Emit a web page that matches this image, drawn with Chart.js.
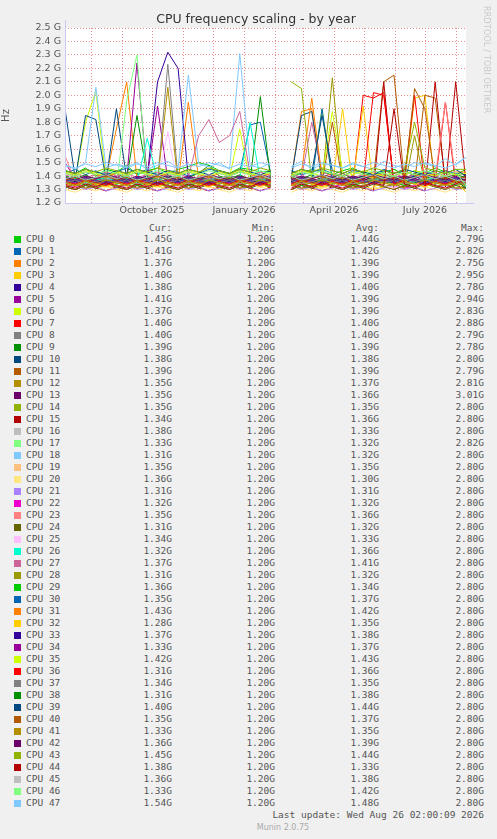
<!DOCTYPE html>
<html>
<head>
<meta charset="utf-8">
<script src="https://cdn.jsdelivr.net/npm/chart.js@4"></script>
<style>
  body { margin: 0; background: #f0f0f0; width: 497px; height: 839px; position: relative; overflow: hidden; font-family: "DejaVu Sans", sans-serif; }
  #title { position: absolute; top: 11px; left: 0; width: 512px; text-align: center; font-size: 12.5px; color: #333; }
  #wrap { position: absolute; left: 0; top: 0; width: 497px; height: 220px; }
  #side { position: absolute; left: 482px; top: 6px; writing-mode: vertical-rl; font-size: 8px; color: #c8c8c8; letter-spacing: 0.2px; }
  .t { position: absolute; font-family: "DejaVu Sans Mono", monospace; font-size: 9.5px; color: #555; white-space: pre; }
  .sw { position: absolute; width: 7px; height: 7px; }
  #munin { position: absolute; top: 823px; left: 0; width: 566px; text-align: center; font-size: 8px; color: #aaa; }
</style>
</head>
<body>
<div id="wrap"><canvas id="chart"></canvas></div>
<div id="title">CPU frequency scaling - by year</div>
<div id="side">RRDTOOL / TOBI OETIKER</div>
<div id="legend"></div>
<div id="munin">Munin 2.0.75</div>
<script>
// values are hundredths of a GHz above 1.20 G, "-" = no data
const cpuNames = [];
for (let i = 0; i < 48; i++) cpuNames.push("CPU " + i);

const colors = ["#00CC00","#0066B3","#FF8000","#FFCC00","#330099","#990099","#CCFF00","#FF0000","#808080","#008F00",
  "#00487D","#B35A00","#B38F00","#6B006B","#8FB300","#B30000","#BEBEBE","#80FF80","#80C9FF","#FFC080",
  "#FFE680","#AA80FF","#EE00CC","#FF8080","#666600","#FFBFFF","#00FFCC","#CC6699","#999900"];

const series = [
"24 22 26 20 25 23 28 21 24 26 22 25 27 30 28 24 22 26 25 23 24 - 20 22 25 23 21 24 26 22 20 23 25 21 24 22 26 23 21 25",
"22 25 21 24 20 23 26 22 25 21 24 23 20 22 25 24 21 23 58 60 22 - 24 21 23 25 22 20 24 23 21 25 22 24 20 23 21 24 22 21",
"18 16 20 17 19 55 90 18 15 17 19 16 75 18 17 19 16 20 18 17 15 - 18 68 70 17 19 16 18 15 17 19 16 18 17 15 19 16 18 17",
"12 10 14 11 13 10 12 14 11 13 10 12 11 14 12 10 13 11 12 14 11 - 13 10 12 11 14 70 12 13 10 12 11 14 78 80 12 11 13 20",
"19 17 20 18 16 19 17 18 20 90 112 100 18 16 19 17 20 18 16 19 17 - 18 20 16 19 17 18 20 16 19 17 18 16 20 19 17 18 16 18",
"30 18 16 19 17 20 18 104 19 72 17 18 20 16 19 17 18 20 16 19 17 - 18 19 17 16 20 18 19 17 18 16 19 20 17 18 16 19 17 21",
"16 18 60 83 17 15 18 16 17 19 15 18 16 17 15 18 19 55 16 18 17 - 15 17 19 70 16 18 15 17 19 16 18 17 15 19 16 18 17 17",
"14 12 16 13 15 12 14 16 13 15 12 14 13 15 12 16 14 13 12 15 14 - 13 15 12 14 16 13 15 80 78 82 14 12 16 13 15 75 14 20",
"18 20 17 19 16 18 20 17 19 16 103 18 20 17 19 16 18 20 17 19 16 - 18 17 19 20 16 18 17 19 20 16 18 19 17 16 20 18 17 20",
"20 18 21 17 19 22 18 65 20 18 21 17 19 22 28 20 18 21 17 79 18 - 20 18 21 17 19 22 18 20 17 21 19 18 22 20 17 19 21 19",
"70 18 65 62 17 70 18 16 19 17 20 18 16 19 17 18 20 16 19 17 18 - 18 65 68 16 19 17 18 20 16 19 17 18 20 16 19 17 18 18",
"18 16 19 17 15 18 16 19 17 15 18 16 19 17 15 18 16 19 17 15 18 - 16 19 17 15 60 16 19 17 18 90 95 17 15 80 78 16 19 19",
"16 14 17 15 18 16 14 17 15 16 86 14 17 15 18 16 14 17 15 18 16 - 14 17 15 18 16 14 17 15 18 16 14 17 15 18 16 14 17 15",
"16 17 15 18 16 14 17 15 18 16 14 17 15 18 16 14 17 15 18 16 14 - 17 15 18 16 14 17 15 18 16 14 17 15 18 16 14 17 15 15",
"15 13 16 14 17 15 13 16 14 17 15 13 16 14 17 15 13 16 14 17 15 - 90 85 16 14 17 15 13 16 14 17 15 13 16 14 17 15 13 15",
"12 10 13 11 9 12 10 13 11 9 12 10 13 11 9 12 10 13 11 9 12 - 10 13 11 9 12 10 13 11 9 90 10 13 11 9 90 12 90 14",
"18 16 19 17 15 18 16 19 17 15 18 16 19 17 15 18 16 19 17 15 18 - 16 19 17 15 18 16 19 17 15 18 16 19 17 15 18 16 19 18",
"12 14 11 13 15 12 76 110 13 15 12 14 11 13 15 12 14 11 13 15 12 - 14 11 13 15 12 14 11 13 15 12 14 11 13 15 12 14 11 13",
"28 25 30 86 26 29 27 30 25 28 31 26 95 29 27 30 25 111 28 26 30 - 27 31 25 29 28 26 30 27 25 31 28 26 30 29 27 33 28 34",
"15 17 14 16 18 15 17 14 16 18 15 17 14 16 18 15 17 14 16 18 15 - 17 14 16 18 15 17 14 16 18 15 17 14 16 18 15 17 14 15",
"10 8 11 9 12 10 8 11 9 12 10 8 11 9 12 10 8 11 9 12 10 - 8 11 9 12 10 8 11 9 12 10 8 11 9 12 10 8 11 16",
"11 13 10 12 9 11 13 10 12 9 11 13 10 12 9 11 13 10 12 9 11 - 13 10 12 9 11 13 10 12 9 11 13 10 12 9 11 13 10 11",
"12 14 11 13 15 12 14 11 13 15 12 14 11 13 15 12 14 11 13 15 12 - 14 11 13 15 12 14 11 13 15 12 14 11 13 15 12 14 11 12",
"35 16 18 15 17 19 16 18 15 17 19 16 18 15 17 19 16 18 15 17 19 - 16 18 15 17 19 16 18 15 17 19 16 18 15 17 19 75 18 15",
"12 10 13 11 14 12 10 13 11 14 12 10 13 11 14 12 10 13 11 14 12 - 10 13 11 14 12 10 13 11 14 12 10 13 11 14 12 10 13 11",
"13 11 14 12 15 13 11 14 12 15 53 11 14 12 15 13 11 14 12 15 13 - 11 14 12 15 13 11 14 12 15 13 11 14 12 15 13 11 14 14",
"16 18 15 17 19 16 18 15 48 17 19 16 18 15 17 19 16 18 60 17 19 - 16 18 15 17 19 16 18 15 17 19 16 18 15 17 19 16 18 12",
"20 22 19 21 23 20 22 19 21 23 20 22 19 50 62 45 50 68 21 23 20 - 22 19 60 23 20 22 19 21 23 20 22 19 21 23 20 22 19 17",
"12 14 11 13 15 12 14 11 13 15 12 14 11 13 15 12 14 11 13 15 12 - 14 11 13 15 93 14 11 13 15 12 14 11 50 15 12 14 11 11",
"14 16 13 15 17 14 16 13 15 17 14 16 13 15 17 14 16 13 15 17 14 - 16 13 15 17 14 16 13 15 17 14 16 13 15 17 14 16 13 16",
"17 15 18 16 14 17 15 18 16 14 17 15 18 16 14 17 15 18 16 14 17 - 15 18 16 70 17 15 18 16 14 17 15 18 16 14 17 15 18 15",
"22 20 23 21 19 22 20 23 21 19 22 20 23 21 19 22 20 23 21 19 22 - 20 23 78 19 22 20 23 21 19 22 20 23 21 19 22 20 23 23",
"15 13 16 14 12 15 13 16 14 12 15 13 16 14 12 15 13 16 14 12 15 - 13 16 14 12 15 13 16 72 12 15 13 16 14 12 15 13 16 8",
"18 16 19 17 15 18 16 19 17 15 18 16 19 17 15 18 16 19 17 15 18 - 16 19 17 15 18 16 19 17 15 18 16 19 17 15 18 16 19 17",
"17 15 18 16 14 17 15 18 16 14 17 15 18 16 14 17 15 18 16 14 17 - 15 18 16 14 17 15 18 16 14 17 15 18 16 14 17 15 18 13",
"23 21 24 22 20 23 21 24 22 20 23 21 24 22 20 23 21 24 22 20 23 - 21 24 22 20 68 23 21 24 22 20 23 21 24 22 20 23 21 22",
"16 14 17 15 13 16 14 17 15 13 16 14 17 15 13 16 14 17 15 13 16 - 14 17 15 13 16 14 17 15 82 80 14 17 80 13 16 14 17 11",
"15 17 14 16 18 15 17 14 16 18 15 17 14 16 18 15 17 14 16 18 15 - 17 14 16 18 15 17 14 16 18 15 17 14 16 18 15 17 14 14",
"18 20 17 19 21 18 20 17 19 21 18 20 17 19 21 18 20 17 19 21 18 - 20 17 19 21 18 20 17 19 21 18 20 17 19 21 18 20 17 11",
"24 22 25 23 21 24 22 25 23 21 24 22 25 23 21 24 22 25 23 21 24 - 22 25 23 65 24 22 25 23 21 24 22 25 23 21 24 22 25 20",
"17 19 16 18 20 17 19 16 18 20 17 19 16 18 20 17 19 16 18 20 17 - 19 16 18 20 17 19 16 18 20 17 19 16 85 70 17 19 16 15",
"15 13 16 14 17 15 13 16 14 17 15 13 16 14 17 15 13 16 14 17 15 - 13 16 14 17 15 13 16 14 17 15 13 16 14 17 15 13 16 13",
"19 17 20 18 21 19 17 20 18 21 19 17 20 18 21 19 17 20 18 21 19 - 17 20 18 21 19 17 20 18 21 19 17 20 18 21 19 17 20 16",
"24 22 25 23 26 24 22 25 23 26 24 22 25 23 26 24 22 25 23 26 24 - 22 25 23 26 24 22 25 23 26 24 22 25 60 26 24 22 25 25",
"13 11 14 12 15 13 11 14 12 15 13 11 14 12 15 13 11 14 12 15 13 - 11 14 12 15 13 11 14 12 15 13 70 14 12 15 13 11 14 18",
"18 20 17 19 21 18 20 17 19 21 18 20 17 19 21 18 20 17 19 21 18 - 20 17 19 21 18 20 17 19 21 18 20 17 19 21 18 20 17 16",
"22 20 23 21 24 22 20 23 21 24 22 20 23 21 24 22 20 23 21 24 22 - 20 23 21 24 22 20 23 21 24 22 20 23 21 24 22 20 23 13",
"28 26 29 27 30 28 26 29 27 30 28 26 29 27 30 28 26 29 27 30 28 - 26 29 27 30 28 26 29 27 30 28 26 29 27 30 28 26 29 34"
];

const curVals = ["1.45G","1.41G","1.37G","1.40G","1.38G","1.41G","1.37G","1.40G","1.40G","1.39G","1.38G","1.39G","1.35G","1.35G","1.35G","1.34G",
  "1.38G","1.33G","1.31G","1.35G","1.36G","1.31G","1.32G","1.35G","1.31G","1.34G","1.32G","1.37G","1.31G","1.36G","1.35G","1.43G",
  "1.28G","1.37G","1.33G","1.42G","1.31G","1.34G","1.31G","1.40G","1.35G","1.33G","1.36G","1.45G","1.38G","1.36G","1.33G","1.54G"];
const avgVals = ["1.44G","1.42G","1.39G","1.39G","1.40G","1.39G","1.39G","1.40G","1.40G","1.39G","1.38G","1.39G","1.37G","1.36G","1.35G","1.36G",
  "1.33G","1.32G","1.32G","1.35G","1.30G","1.31G","1.32G","1.36G","1.32G","1.33G","1.36G","1.41G","1.32G","1.34G","1.37G","1.42G",
  "1.35G","1.38G","1.37G","1.43G","1.36G","1.35G","1.38G","1.44G","1.37G","1.35G","1.39G","1.44G","1.33G","1.38G","1.42G","1.48G"];
const maxVals = ["2.79G","2.82G","2.75G","2.95G","2.78G","2.94G","2.83G","2.88G","2.79G","2.78G","2.80G","2.79G","2.81G","3.01G","2.80G","2.80G",
  "2.80G","2.82G","2.80G","2.80G","2.80G","2.80G","2.80G","2.80G","2.80G","2.80G","2.80G","2.80G","2.80G","2.80G","2.80G","2.80G",
  "2.80G","2.80G","2.80G","2.80G","2.80G","2.80G","2.80G","2.80G","2.80G","2.80G","2.80G","2.80G","2.80G","2.80G","2.80G","2.80G"];

// x axis in days relative to 1 Oct 2025
const xStart = -87, xEnd = 314;
const quarterTicks = [0, 92, 182, 273];
const quarterLabels = ["October 2025", "January 2026", "April 2026", "July 2026"];
const monthStarts = [-61, -30, 0, 31, 61, 92, 123, 151, 182, 212, 243, 273, 304];

const datasets = series.map((s, i) => {
  const vals = s.split(" ");
  const pts = vals.map((v, j) => ({
    x: xStart + j * (xEnd - xStart) / (vals.length - 1),
    y: v === "-" ? null : 1.2 + Number(v) / 100
  }));
  return {
    label: cpuNames[i],
    data: pts,
    borderColor: colors[i % colors.length],
    borderWidth: 1,
    pointRadius: 0,
    tension: 0,
    spanGaps: false,
    order: 48 - i
  };
});

new Chart(document.getElementById("chart"), {
  type: "line",
  data: { datasets },
  options: {
    responsive: true,
    maintainAspectRatio: false,
    animation: false,
    layout: { padding: { top: 28, right: 31, left: 0, bottom: 0 } },
    plugins: { legend: { display: false }, tooltip: { enabled: false } },
    scales: {
      x: {
        type: "linear",
        min: xStart,
        max: xEnd,
        afterBuildTicks: (ax) => {
          ax.ticks = monthStarts.map(v => ({ value: v })).concat(quarterTicks.map(v => ({ value: v + 0.01 })));
        },
        afterFit: (ax) => { ax.height = 17; },
        ticks: {
          autoSkip: false, maxRotation: 0, padding: 2,
          font: { family: "DejaVu Sans", size: 9.5 }, color: "#555",
          callback: (v) => {
            const k = quarterTicks.findIndex(q => Math.abs(q + 0.01 - v) < 0.001);
            return k >= 0 ? quarterLabels[k] : "";
          }
        },
        grid: {
          color: (c) => (c.tick && Math.abs(c.tick.value % 1) > 0.001) ? "rgba(0,0,0,0)" : "#e89090",
          lineWidth: 1, drawTicks: false
        },
        border: { display: false, dash: [1, 2] }
      },
      y: {
        min: 1.2,
        max: 2.5,
        afterBuildTicks: (ax) => {
          const t = [];
          for (let k = 0; k <= 13; k++) t.push({ value: 1.2 + k * 0.1 });
          ax.ticks = t;
        },
        afterFit: (ax) => { ax.width = 65; },
        ticks: {
          autoSkip: false, padding: 4, font: { family: "DejaVu Sans", size: 9.5 }, color: "#555",
          callback: (v) => v.toFixed(1) + " G"
        },
        grid: { color: "#e89090", drawTicks: false, lineWidth: 1 },
        border: { display: false, dash: [1, 2] },
        title: { display: true, text: "Hz", font: { family: "DejaVu Sans", size: 10 }, color: "#555", padding: { top: 0, bottom: 10 } }
      }
    }
  },
  plugins: [{
    id: "bg",
    beforeDraw: (chart) => {
      const a = chart.chartArea, ctx = chart.ctx;
      ctx.save();
      ctx.fillStyle = "#fff";
      ctx.fillRect(a.left, a.top, a.right - a.left, a.bottom - a.top);
      ctx.restore();
    },
    afterDraw: (chart) => {
      const a = chart.chartArea, ctx = chart.ctx;
      ctx.save();
      ctx.strokeStyle = "#c8c8f0";
      ctx.beginPath();
      ctx.moveTo(a.left + 0.5, a.bottom); ctx.lineTo(a.left + 0.5, a.top - 8);
      ctx.moveTo(a.left, a.bottom + 0.5); ctx.lineTo(a.right + 8, a.bottom + 0.5);
      ctx.stroke();
      ctx.restore();
    }
  }]
});

// legend table
const lg = document.getElementById("legend");
function txt(s, x, y, right) {
  const d = document.createElement("div");
  d.className = "t";
  d.textContent = s;
  d.style.top = y + "px";
  if (right) d.style.right = (497 - x) + "px"; else d.style.left = x + "px";
  lg.appendChild(d);
}
txt("Cur:", 172, 222, true);
txt("Min:", 275, 222, true);
txt("Avg:", 379, 222, true);
txt("Max:", 484, 222, true);
cpuNames.forEach((n, i) => {
  const y = 233 + i * 12.0;
  const sw = document.createElement("div");
  sw.className = "sw";
  sw.style.left = "14px";
  sw.style.top = (y + 3) + "px";
  sw.style.background = colors[i % colors.length];
  lg.appendChild(sw);
  txt(n, 26, y, false);
  txt(curVals[i], 172, y, true);
  txt("1.20G", 275, y, true);
  txt(avgVals[i], 379, y, true);
  txt(maxVals[i], 484, y, true);
});
txt("Last update: Wed Aug 26 02:00:09 2026", 484, 809, true);
</script>
</body>
</html>
